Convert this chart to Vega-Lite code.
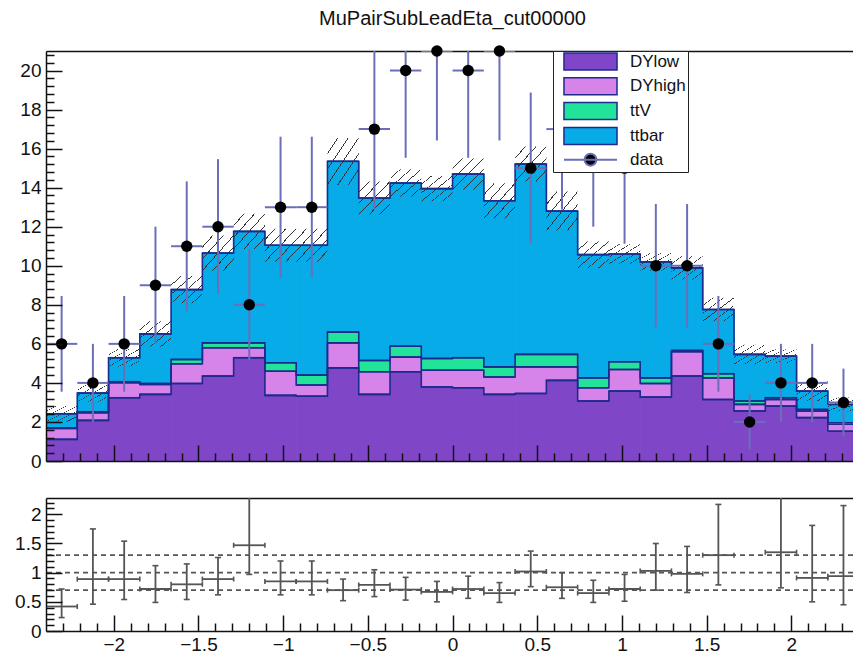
{
  "$schema": "https://vega.github.io/schema/vega-lite/v6.json",
  "padding": {"left": 0, "top": 8, "right": 0, "bottom": 0},
  "spacing": 27,
  "config": {
    "view": {"stroke": null},
    "font": "Liberation Sans",
    "axis": {"grid": false, "title": null, "labelFont": "Liberation Sans", "labelColor": "#111111", "tickColor": "#111111", "domainColor": "#111111"}
  },
  "datasets": {
    "procs": [{"key": "DYlow", "o": 1}, {"key": "DYhigh", "o": 2}, {"key": "ttV", "o": 3}, {"key": "ttbar", "o": 4}],
    "refs": [{"ref": 0.7}, {"ref": 1.0}, {"ref": 1.3}],
    "bins": [
      {"lo": -2.4, "hi": -2.2154, "c": -2.3077, "DYlow": 1.11, "DYhigh": 0.56, "ttV": 0.03, "ttbar": 0.72, "mclo": 2.02, "mchi": 2.82, "n": 6, "nlo": 3.55, "nhi": 8.45, "r": 0.42, "rlo": 0.23, "rhi": 0.72},
      {"lo": -2.2154, "hi": -2.0308, "c": -2.1231, "DYlow": 2.08, "DYhigh": 0.39, "ttV": 0.05, "ttbar": 0.96, "mclo": 3.03, "mchi": 3.93, "n": 4, "nlo": 2, "nhi": 6, "r": 0.89, "rlo": 0.46, "rhi": 1.75},
      {"lo": -2.0308, "hi": -1.8462, "c": -1.9385, "DYlow": 3.24, "DYhigh": 0.77, "ttV": 0.05, "ttbar": 1.23, "mclo": 4.84, "mchi": 5.74, "n": 6, "nlo": 3.55, "nhi": 8.45, "r": 0.89, "rlo": 0.54, "rhi": 1.54},
      {"lo": -1.8462, "hi": -1.6615, "c": -1.7538, "DYlow": 3.41, "DYhigh": 0.51, "ttV": 0.05, "ttbar": 2.54, "mclo": 5.86, "mchi": 7.16, "n": 9, "nlo": 6, "nhi": 12, "r": 0.72, "rlo": 0.49, "rhi": 1.12},
      {"lo": -1.6615, "hi": -1.4769, "c": -1.5692, "DYlow": 3.97, "DYhigh": 1.01, "ttV": 0.22, "ttbar": 3.58, "mclo": 8.08, "mchi": 9.48, "n": 11, "nlo": 7.68, "nhi": 14.32, "r": 0.80, "rlo": 0.54, "rhi": 1.15},
      {"lo": -1.4769, "hi": -1.2923, "c": -1.3846, "DYlow": 4.35, "DYhigh": 1.45, "ttV": 0.25, "ttbar": 4.6, "mclo": 9.75, "mchi": 11.55, "n": 12, "nlo": 8.54, "nhi": 15.46, "r": 0.89, "rlo": 0.62, "rhi": 1.26},
      {"lo": -1.2923, "hi": -1.1077, "c": -1.2, "DYlow": 5.29, "DYhigh": 0.51, "ttV": 0.25, "ttbar": 5.71, "mclo": 10.86, "mchi": 12.66, "n": 8, "nlo": 5.17, "nhi": 10.83, "r": 1.47, "rlo": 0.97, "rhi": 2.4},
      {"lo": -1.1077, "hi": -0.9231, "c": -1.0154, "DYlow": 3.36, "DYhigh": 1.24, "ttV": 0.43, "ttbar": 6.02, "mclo": 10.2, "mchi": 11.9, "n": 13, "nlo": 9.39, "nhi": 16.61, "r": 0.85, "rlo": 0.62, "rhi": 1.2},
      {"lo": -0.9231, "hi": -0.7385, "c": -0.8308, "DYlow": 3.32, "DYhigh": 0.57, "ttV": 0.51, "ttbar": 6.65, "mclo": 10.2, "mchi": 11.9, "n": 13, "nlo": 9.39, "nhi": 16.61, "r": 0.85, "rlo": 0.62, "rhi": 1.2},
      {"lo": -0.7385, "hi": -0.5538, "c": -0.6462, "DYlow": 4.77, "DYhigh": 1.28, "ttV": 0.55, "ttbar": 8.75, "mclo": 14.15, "mchi": 16.55, "n": 22, "nlo": 17.31, "nhi": 26.69, "r": 0.70, "rlo": 0.52, "rhi": 0.89},
      {"lo": -0.5538, "hi": -0.3692, "c": -0.4615, "DYlow": 3.41, "DYhigh": 1.16, "ttV": 0.58, "ttbar": 8.32, "mclo": 12.62, "mchi": 14.32, "n": 17, "nlo": 12.88, "nhi": 21.12, "r": 0.79, "rlo": 0.59, "rhi": 1.05},
      {"lo": -0.3692, "hi": -0.1846, "c": -0.2769, "DYlow": 4.57, "DYhigh": 0.75, "ttV": 0.56, "ttbar": 8.36, "mclo": 13.54, "mchi": 14.94, "n": 20, "nlo": 15.53, "nhi": 24.47, "r": 0.71, "rlo": 0.53, "rhi": 0.92},
      {"lo": -0.1846, "hi": 0, "c": -0.0923, "DYlow": 3.79, "DYhigh": 0.86, "ttV": 0.6, "ttbar": 8.7, "mclo": 13.3, "mchi": 14.6, "n": 21, "nlo": 16.42, "nhi": 25.58, "r": 0.67, "rlo": 0.50, "rhi": 0.85},
      {"lo": 0, "hi": 0.1846, "c": 0.0923, "DYlow": 3.75, "DYhigh": 0.9, "ttV": 0.64, "ttbar": 9.41, "mclo": 13.9, "mchi": 15.5, "n": 20, "nlo": 15.53, "nhi": 24.47, "r": 0.72, "rlo": 0.56, "rhi": 0.94},
      {"lo": 0.1846, "hi": 0.3692, "c": 0.2769, "DYlow": 3.41, "DYhigh": 0.89, "ttV": 0.52, "ttbar": 8.51, "mclo": 12.43, "mchi": 14.23, "n": 21, "nlo": 16.42, "nhi": 25.58, "r": 0.65, "rlo": 0.49, "rhi": 0.83},
      {"lo": 0.3692, "hi": 0.5538, "c": 0.4615, "DYlow": 3.46, "DYhigh": 1.36, "ttV": 0.64, "ttbar": 9.75, "mclo": 14.31, "mchi": 16.11, "n": 15, "nlo": 11.13, "nhi": 18.87, "r": 1.02, "rlo": 0.76, "rhi": 1.37},
      {"lo": 0.5538, "hi": 0.7385, "c": 0.6462, "DYlow": 4.13, "DYhigh": 0.69, "ttV": 0.64, "ttbar": 7.34, "mclo": 11.8, "mchi": 13.8, "n": 17, "nlo": 12.88, "nhi": 21.12, "r": 0.75, "rlo": 0.56, "rhi": 1.0},
      {"lo": 0.7385, "hi": 0.9231, "c": 0.8308, "DYlow": 3.07, "DYhigh": 0.68, "ttV": 0.51, "ttbar": 6.31, "mclo": 9.89, "mchi": 11.25, "n": 16, "nlo": 12, "nhi": 20, "r": 0.65, "rlo": 0.49, "rhi": 0.87},
      {"lo": 0.9231, "hi": 1.1077, "c": 1.0154, "DYlow": 3.58, "DYhigh": 1.11, "ttV": 0.39, "ttbar": 5.52, "mclo": 10.1, "mchi": 11.1, "n": 15, "nlo": 11.13, "nhi": 18.87, "r": 0.72, "rlo": 0.51, "rhi": 0.97},
      {"lo": 1.1077, "hi": 1.2923, "c": 1.2, "DYlow": 3.27, "DYhigh": 0.7, "ttV": 0.29, "ttbar": 5.94, "mclo": 9.75, "mchi": 10.65, "n": 10, "nlo": 6.84, "nhi": 13.16, "r": 1.03, "rlo": 0.70, "rhi": 1.50},
      {"lo": 1.2923, "hi": 1.4769, "c": 1.3846, "DYlow": 4.35, "DYhigh": 1.25, "ttV": 0.06, "ttbar": 4.23, "mclo": 9.29, "mchi": 10.49, "n": 10, "nlo": 6.84, "nhi": 13.16, "r": 0.98, "rlo": 0.66, "rhi": 1.45},
      {"lo": 1.4769, "hi": 1.6615, "c": 1.5692, "DYlow": 3.15, "DYhigh": 1.11, "ttV": 0.21, "ttbar": 3.29, "mclo": 7.16, "mchi": 8.36, "n": 6, "nlo": 3.55, "nhi": 8.45, "r": 1.30, "rlo": 0.79, "rhi": 2.17},
      {"lo": 1.6615, "hi": 1.8462, "c": 1.7538, "DYlow": 2.56, "DYhigh": 0.34, "ttV": 0.17, "ttbar": 2.39, "mclo": 4.96, "mchi": 5.96, "n": 2, "nlo": 0.59, "nhi": 3.41, "r": 2.73, "rlo": 1.6, "rhi": 4.5},
      {"lo": 1.8462, "hi": 2.0308, "c": 1.9385, "DYlow": 2.81, "DYhigh": 0.34, "ttV": 0.09, "ttbar": 2.13, "mclo": 5.02, "mchi": 5.72, "n": 4, "nlo": 2, "nhi": 6, "r": 1.35, "rlo": 0.74, "rhi": 2.4},
      {"lo": 2.0308, "hi": 2.2154, "c": 2.1231, "DYlow": 2.22, "DYhigh": 0.34, "ttV": 0.08, "ttbar": 0.94, "mclo": 3.08, "mchi": 4.08, "n": 4, "nlo": 2, "nhi": 6, "r": 0.91, "rlo": 0.50, "rhi": 1.81},
      {"lo": 2.2154, "hi": 2.4, "c": 2.3077, "DYlow": 1.53, "DYhigh": 0.35, "ttV": 0.08, "ttbar": 0.94, "mclo": 2.55, "mchi": 3.25, "n": 3, "nlo": 1.27, "nhi": 4.73, "r": 0.94, "rlo": 0.45, "rhi": 2.15}
    ]
  },
  "vconcat": [
    {
      "width": 807,
      "height": 410,
      "title": {"text": "MuPairSubLeadEta_cut00000", "fontSize": 20, "fontWeight": "normal", "font": "Liberation Sans", "color": "#111111", "anchor": "middle", "frame": "group", "offset": 16.5, "dx": 3},
      "data": {"name": "bins"},
      "resolve": {"axis": {"x": "independent", "y": "independent"}},
      "layer": [
        {
          "transform": [
            {"fold": ["DYlow", "DYhigh", "ttV", "ttbar"], "as": ["key", "v"]},
            {"lookup": "key", "from": {"data": {"name": "procs"}, "key": "key", "fields": ["o"]}},
            {"stack": "v", "groupby": ["lo"], "sort": [{"field": "o", "order": "ascending"}], "as": ["v0", "v1"]}
          ],
          "mark": {"type": "rect", "clip": true, "strokeWidth": 0, "x2Offset": 0.7},
          "encoding": {
            "x": {"field": "lo", "type": "quantitative", "scale": {"domain": [-2.4, 2.364], "nice": false, "zero": false},
              "axis": {"orient": "bottom", "values": [-2, -1.5, -1, -0.5, 0, 0.5, 1, 1.5, 2], "labels": false, "ticks": true, "tickSize": -16, "tickWidth": 1.5, "domain": true, "domainWidth": 1.5, "minExtent": 0, "maxExtent": 0, "zindex": 1}},
            "x2": {"field": "hi"},
            "y": {"field": "v0", "type": "quantitative", "scale": {"domain": [0, 21], "nice": false, "zero": false},
              "axis": {"orient": "left", "values": [0, 2, 4, 6, 8, 10, 12, 14, 16, 18, 20], "ticks": false, "domain": true, "domainWidth": 1.5, "labelFontSize": 19, "labelPadding": 5, "format": "d", "minExtent": 46, "maxExtent": 46, "zindex": 1}},
            "y2": {"field": "v1"},
            "color": {
              "field": "key", "type": "nominal",
              "scale": {"domain": ["DYlow", "DYhigh", "ttV", "ttbar", "data"], "range": ["#8046C8", "#D683EA", "#22E39A", "#06ABE8", "#000000"]},
              "legend": {
                "orient": "none", "legendX": 507, "legendY": 0, "title": null, "padding": 2,
                "fillColor": "#ffffff", "strokeColor": "#222222", "rowPadding": 1.8,
                "symbolType": "M-3.12,-1H3.12V1H-3.12Z", "symbolSize": 289, "symbolStrokeWidth": 1.5, "symbolStrokeColor": "#1C2B8C", "symbolOffset": 27, "symbolOpacity": 1,
                "labelOffset": 31, "labelFontSize": 17, "labelFont": "Liberation Sans", "labelColor": "#111111", "labelLimit": 500,
                "labelExpr": "datum.label + '\u00a0\u00a0\u00a0\u00a0\u00a0\u00a0\u00a0\u00a0\u00a0\u00a0\u00a0\u00a0\u00a0\u00a0\u00a0\u00a0\u00a0\u00a0\u00a0\u00a0\u00a0\u00a0\u00a0\u00a0\u00a0\u00a0\u00a0\u00a0\u00a0\u00a0\u00a0\u00a0\u00a0\u00a0\u00a0\u00a0\u00a0\u00a0\u00a0\u00a0'",
                "encode": {"symbols": {"update": {
                  "shape": {"signal": "datum.value === 'data' ? 'M-3.12,0H3.12M0.7,0A0.7,0.7,0,1,1,-0.7,0A0.7,0.7,0,1,1,0.7,0Z' : 'M-3.12,-1H3.12V1H-3.12Z'"},
                  "stroke": {"signal": "datum.value === 'data' ? '#6A6FB8' : '#1C2B8C'"},
                  "strokeWidth": {"signal": "datum.value === 'data' ? 2 : 1.5"}
                }}}
              }
            }
          }
        },
        {
          "mark": {"type": "rect", "clip": true, "strokeWidth": 0,
            "fill": {"gradient": "linear", "x1": 0, "y1": 0, "x2": 1, "y2": 1, "stops": [
              {"offset": 0, "color": "rgba(255,255,255,0)"},
              {"offset": 0.158, "color": "rgba(255,255,255,0)"}, {"offset": 0.158, "color": "#333333"}, {"offset": 0.175, "color": "#333333"}, {"offset": 0.175, "color": "rgba(255,255,255,0)"},
              {"offset": 0.325, "color": "rgba(255,255,255,0)"}, {"offset": 0.325, "color": "#333333"}, {"offset": 0.342, "color": "#333333"}, {"offset": 0.342, "color": "rgba(255,255,255,0)"},
              {"offset": 0.491, "color": "rgba(255,255,255,0)"}, {"offset": 0.491, "color": "#333333"}, {"offset": 0.508, "color": "#333333"}, {"offset": 0.508, "color": "rgba(255,255,255,0)"},
              {"offset": 0.658, "color": "rgba(255,255,255,0)"}, {"offset": 0.658, "color": "#333333"}, {"offset": 0.675, "color": "#333333"}, {"offset": 0.675, "color": "rgba(255,255,255,0)"},
              {"offset": 0.825, "color": "rgba(255,255,255,0)"}, {"offset": 0.825, "color": "#333333"}, {"offset": 0.842, "color": "#333333"}, {"offset": 0.842, "color": "rgba(255,255,255,0)"},
              {"offset": 1, "color": "rgba(255,255,255,0)"}
            ]}},
          "encoding": {
            "x": {"field": "lo", "type": "quantitative", "scale": {"domain": [-2.4, 2.364], "nice": false, "zero": false},
              "axis": {"orient": "bottom", "values": [-2.3, -2.2, -2.1, -1.9, -1.8, -1.7, -1.6, -1.4, -1.3, -1.2, -1.1, -0.9, -0.8, -0.7, -0.6, -0.4, -0.3, -0.2, -0.1, 0.1, 0.2, 0.3, 0.4, 0.6, 0.7, 0.8, 0.9, 1.1, 1.2, 1.3, 1.4, 1.6, 1.7, 1.8, 1.9, 2.1, 2.2, 2.3], "labels": false, "domain": false, "tickSize": -8, "tickWidth": 1.5, "minExtent": 0, "maxExtent": 0, "zindex": 1}},
            "x2": {"field": "hi"},
            "y": {"field": "mclo", "type": "quantitative", "scale": {"domain": [0, 21], "nice": false, "zero": false},
              "axis": {"orient": "left", "values": [0, 2, 4, 6, 8, 10, 12, 14, 16, 18, 20], "labels": false, "domain": false, "tickSize": -16, "tickWidth": 1.5, "minExtent": 0, "maxExtent": 46, "zindex": 1}},
            "y2": {"field": "mchi"}
          }
        },
        {
          "transform": [
            {"fold": ["DYlow", "DYhigh", "ttV", "ttbar"], "as": ["key", "v"]},
            {"lookup": "key", "from": {"data": {"name": "procs"}, "key": "key", "fields": ["o"]}},
            {"stack": "v", "groupby": ["lo"], "sort": [{"field": "o", "order": "ascending"}], "as": ["v0", "v1"]}
          ],
          "mark": {"type": "line", "interpolate": "step-after", "clip": true, "color": "#1C2B8C", "strokeWidth": 1.6},
          "encoding": {
            "x": {"field": "lo", "type": "quantitative", "scale": {"domain": [-2.4, 2.364], "nice": false, "zero": false},
              "axis": {"orient": "top", "labels": false, "ticks": false, "domain": true, "domainWidth": 1.5, "minExtent": 0, "maxExtent": 0}},
            "y": {"field": "v1", "type": "quantitative", "scale": {"domain": [0, 21], "nice": false, "zero": false},
              "axis": {"orient": "left", "values": [0.4, 0.8, 1.2, 1.6, 2.4, 2.8, 3.2, 3.6, 4.4, 4.8, 5.2, 5.6, 6.4, 6.8, 7.2, 7.6, 8.4, 8.8, 9.2, 9.6, 10.4, 10.8, 11.2, 11.6, 12.4, 12.8, 13.2, 13.6, 14.4, 14.8, 15.2, 15.6, 16.4, 16.8, 17.2, 17.6, 18.4, 18.8, 19.2, 19.6, 20.4, 20.8], "labels": false, "domain": false, "tickSize": -8, "tickWidth": 1.5, "minExtent": 0, "maxExtent": 46, "zindex": 1}},
            "detail": {"field": "key"}
          }
        },
        {
          "transform": [
            {"fold": ["DYlow", "DYhigh", "ttV", "ttbar"], "as": ["key", "v"]},
            {"lookup": "key", "from": {"data": {"name": "procs"}, "key": "key", "fields": ["o"]}},
            {"stack": "v", "groupby": ["lo"], "sort": [{"field": "o", "order": "ascending"}], "as": ["v0", "v1"]}
          ],
          "mark": {"type": "rule", "clip": true, "color": "#1C2B8C", "strokeWidth": 1.6},
          "encoding": {
            "x": {"field": "lo", "type": "quantitative", "scale": {"domain": [-2.4, 2.364], "nice": false, "zero": false}, "axis": null},
            "x2": {"field": "hi"},
            "y": {"field": "v1", "type": "quantitative", "scale": {"domain": [0, 21], "nice": false, "zero": false}, "axis": null}
          }
        },
        {
          "transform": [{"filter": "datum.n <= 21"}],
          "mark": {"type": "rule", "clip": true, "color": "#6A6FB8", "strokeWidth": 2},
          "encoding": {
            "x": {"field": "c", "type": "quantitative", "scale": {"domain": [-2.4, 2.364], "nice": false, "zero": false}, "axis": null},
            "y": {"field": "nlo", "type": "quantitative", "scale": {"domain": [0, 21], "nice": false, "zero": false}, "axis": null},
            "y2": {"field": "nhi"}
          }
        },
        {
          "transform": [{"filter": "datum.n <= 21"}],
          "mark": {"type": "rule", "clip": true, "color": "#6A6FB8", "strokeWidth": 2},
          "encoding": {
            "x": {"field": "lo", "type": "quantitative", "scale": {"domain": [-2.4, 2.364], "nice": false, "zero": false}, "axis": null},
            "x2": {"field": "hi"},
            "y": {"field": "n", "type": "quantitative", "scale": {"domain": [0, 21], "nice": false, "zero": false}, "axis": null}
          }
        },
        {
          "transform": [{"filter": "datum.n <= 21"}],
          "mark": {"type": "circle", "size": 130, "color": "#000000", "opacity": 1},
          "encoding": {
            "x": {"field": "c", "type": "quantitative", "scale": {"domain": [-2.4, 2.364], "nice": false, "zero": false}, "axis": null},
            "y": {"field": "n", "type": "quantitative", "scale": {"domain": [0, 21], "nice": false, "zero": false}, "axis": null}
          }
        }
      ]
    },
    {
      "width": 807,
      "height": 133,
      "resolve": {"axis": {"x": "independent", "y": "independent"}},
      "layer": [
        {
          "data": {"name": "refs"},
          "mark": {"type": "rule", "color": "#555555", "strokeWidth": 1.8, "strokeDash": [5, 4]},
          "encoding": {
            "y": {"field": "ref", "type": "quantitative", "scale": {"domain": [0, 2.28], "nice": false, "zero": false},
              "axis": {"orient": "left", "values": [0, 0.5, 1, 1.5, 2], "ticks": false, "domain": true, "domainWidth": 1.5, "labelFontSize": 19, "labelPadding": 5, "format": "~g", "minExtent": 46, "maxExtent": 46, "zindex": 1}}
          }
        },
        {
          "data": {"name": "bins"},
          "transform": [{"filter": "datum.r <= 2.28"}],
          "mark": {"type": "rule", "clip": true, "color": "#555555", "strokeWidth": 1.8},
          "encoding": {
            "x": {"field": "c", "type": "quantitative", "scale": {"domain": [-2.4, 2.364], "nice": false, "zero": false},
              "axis": {"orient": "bottom", "values": [-2, -1.5, -1, -0.5, 0, 0.5, 1, 1.5, 2], "ticks": false, "domain": false, "labelFontSize": 19, "labelPadding": 4, "format": "~g", "labelFlush": false, "labelOverlap": false, "minExtent": 0, "maxExtent": 30}},
            "y": {"field": "rlo", "type": "quantitative", "scale": {"domain": [0, 2.28], "nice": false, "zero": false},
              "axis": {"orient": "left", "values": [0, 0.5, 1, 1.5, 2], "labels": false, "domain": false, "tickSize": -16, "tickWidth": 1.5, "minExtent": 0, "maxExtent": 46, "zindex": 1}},
            "y2": {"field": "rhi"}
          }
        },
        {
          "data": {"name": "bins"},
          "transform": [{"filter": "datum.r <= 2.28"}],
          "mark": {"type": "rule", "clip": true, "color": "#555555", "strokeWidth": 1.8},
          "encoding": {
            "x": {"field": "lo", "type": "quantitative", "scale": {"domain": [-2.4, 2.364], "nice": false, "zero": false},
              "axis": {"orient": "bottom", "values": [-2, -1.5, -1, -0.5, 0, 0.5, 1, 1.5, 2], "labels": false, "domain": true, "domainWidth": 1.5, "tickSize": -16, "tickWidth": 1.5, "minExtent": 0, "maxExtent": 0, "zindex": 1}},
            "x2": {"field": "hi"},
            "y": {"field": "r", "type": "quantitative", "scale": {"domain": [0, 2.28], "nice": false, "zero": false},
              "axis": {"orient": "left", "values": [0.1, 0.2, 0.3, 0.4, 0.6, 0.7, 0.8, 0.9, 1.1, 1.2, 1.3, 1.4, 1.6, 1.7, 1.8, 1.9, 2.1, 2.2], "labels": false, "domain": false, "tickSize": -8, "tickWidth": 1.5, "minExtent": 0, "maxExtent": 46, "zindex": 1}}
          }
        },
        {
          "data": {"name": "bins"},
          "transform": [{"filter": "datum.r <= 2.28"}, {"fold": ["rlo", "rhi"], "as": ["ck", "cv"]}],
          "mark": {"type": "tick", "orient": "horizontal", "clip": true, "color": "#555555", "size": 6, "thickness": 1.6, "opacity": 1},
          "encoding": {
            "x": {"field": "c", "type": "quantitative", "scale": {"domain": [-2.4, 2.364], "nice": false, "zero": false},
              "axis": {"orient": "bottom", "values": [-2.3, -2.2, -2.1, -1.9, -1.8, -1.7, -1.6, -1.4, -1.3, -1.2, -1.1, -0.9, -0.8, -0.7, -0.6, -0.4, -0.3, -0.2, -0.1, 0.1, 0.2, 0.3, 0.4, 0.6, 0.7, 0.8, 0.9, 1.1, 1.2, 1.3, 1.4, 1.6, 1.7, 1.8, 1.9, 2.1, 2.2, 2.3], "labels": false, "domain": false, "tickSize": -8, "tickWidth": 1.5, "minExtent": 0, "maxExtent": 0, "zindex": 1}},
            "y": {"field": "cv", "type": "quantitative", "scale": {"domain": [0, 2.28], "nice": false, "zero": false}, "axis": null}
          }
        },
        {
          "data": {"name": "bins"},
          "transform": [{"filter": "datum.r <= 2.28"}, {"fold": ["lo", "hi"], "as": ["ek", "ev"]}],
          "mark": {"type": "tick", "orient": "vertical", "clip": true, "color": "#555555", "size": 5, "thickness": 1.6, "opacity": 1},
          "encoding": {
            "x": {"field": "ev", "type": "quantitative", "scale": {"domain": [-2.4, 2.364], "nice": false, "zero": false},
              "axis": {"orient": "top", "labels": false, "ticks": false, "domain": true, "domainWidth": 1.5, "minExtent": 0, "maxExtent": 0}},
            "y": {"field": "r", "type": "quantitative", "scale": {"domain": [0, 2.28], "nice": false, "zero": false}, "axis": null}
          }
        }
      ]
    }
  ]
}
